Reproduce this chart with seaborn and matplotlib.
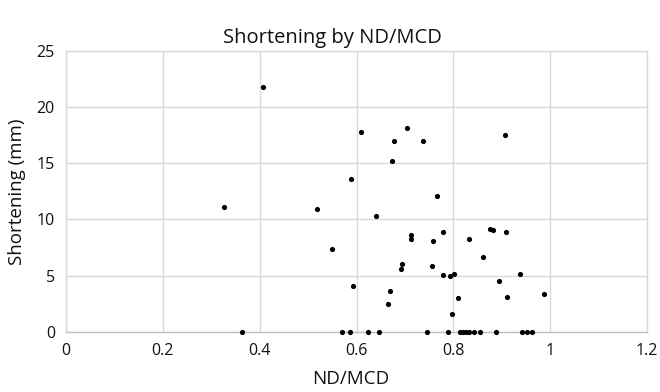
import matplotlib
matplotlib.use("Agg")
import matplotlib.pyplot as plt
import seaborn as sns
import pandas as pd

# Data
nd_mcd = [0.407, 0.326, 0.610, 0.704, 0.678, 0.738, 0.674, 0.589, 0.767, 0.519,
          0.640, 0.713, 0.713, 0.778, 0.758, 0.549, 0.694, 0.692, 0.756, 0.778,
          0.793, 0.802, 0.593, 0.669, 0.665, 0.798, 0.810, 0.907, 0.875, 0.881,
          0.908, 0.832, 0.861, 0.937, 0.894, 0.910, 0.988,
          0.364, 0.571, 0.587, 0.624, 0.647, 0.745, 0.789, 0.814, 0.820, 0.826,
          0.833, 0.843, 0.856, 0.888, 0.942, 0.952, 0.963]
shortening = [21.8, 11.1, 17.8, 18.1, 17.0, 17.0, 15.2, 13.6, 12.1, 10.9,
              10.3, 8.6, 8.3, 8.9, 8.1, 7.4, 6.05, 5.6, 5.9, 5.05,
              4.97, 5.15, 4.1, 3.65, 2.5, 1.57, 3.0, 17.55, 9.15, 9.05,
              8.88, 8.3, 6.65, 5.15, 4.55, 3.08, 3.4,
              0, 0, 0, 0, 0, 0, 0, 0, 0, 0,
              0, 0, 0, 0, 0, 0, 0]

x_ticks = [0, 0.2, 0.4, 0.6, 0.8, 1.0, 1.2]
x_tick_labels = ["0", "0.2", "0.4", "0.6", "0.8", "1", "1.2"]
y_ticks = [0, 5, 10, 15, 20, 25]

df = pd.DataFrame({"ND/MCD": nd_mcd, "Shortening (mm)": shortening})

sns.set_theme(style="white")
plt.rcParams["font.family"] = ["Open Sans", "DejaVu Sans"]

fig = plt.figure(figsize=(6.6, 3.92), dpi=100)
ax = fig.add_axes([66 / 660, 1 - 332 / 392, (647 - 66) / 660, (332 - 50.7) / 392])

sns.scatterplot(data=df, x="ND/MCD", y="Shortening (mm)", ax=ax,
                color="black", s=14, linewidth=0, zorder=3, clip_on=False)

ax.set_xlim(0, 1.2)
ax.set_ylim(0, 25)
ax.set_xticks(x_ticks)
ax.set_xticklabels(x_tick_labels)
ax.set_yticks(y_ticks)
ax.grid(True, color="#d9d9d9", linewidth=1)
ax.set_axisbelow(True)
for side in ["left", "right", "top"]:
    ax.spines[side].set_color("#d9d9d9")
    ax.spines[side].set_linewidth(1)
ax.spines["bottom"].set_color("#bfbfbf")
ax.spines["bottom"].set_linewidth(1)
ax.tick_params(axis="both", length=0, labelsize=11.5, colors="#111111", pad=8)

ax.set_xlabel("ND/MCD", fontsize=13.5, color="#111111")
ax.xaxis.set_label_coords(0.49, -0.135)
ax.set_ylabel("Shortening (mm)", fontsize=13.5, color="#111111", labelpad=8)
fig.text(0.503, 1 - 38 / 392, "Shortening by ND/MCD", fontsize=14.5,
         color="#111111", ha="center", va="center")

fig.savefig("out.png", dpi=100)
